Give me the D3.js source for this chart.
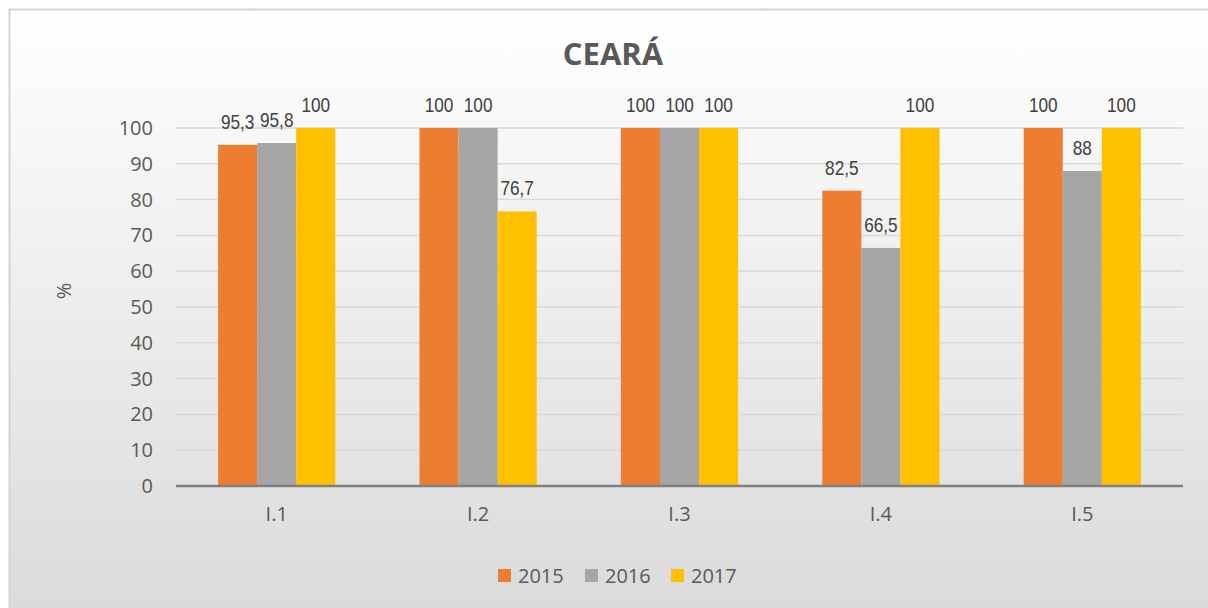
<!DOCTYPE html>
<html>
<head>
<meta charset="utf-8">
<title>CEARÁ</title>
<script src="https://cdn.jsdelivr.net/npm/d3@7"></script>
<style>
  body { margin: 0; background: #fff; }
</style>
</head>
<body>
<svg id="chart" width="1208" height="608"></svg>
<script>
// data
const categories = ["I.1", "I.2", "I.3", "I.4", "I.5"];
const years = ["2015", "2016", "2017"];
const v2015 = [95.3, 100, 100, 82.5, 100];
const v2016 = [95.8, 100, 100, 66.5, 88];
const v2017 = [100, 76.7, 100, 100, 100];
const yTicks = [0, 10, 20, 30, 40, 50, 60, 70, 80, 90, 100];
const colors = ["#ed7d31", "#a5a5a5", "#ffc000"];

const series = [v2015, v2016, v2017];
const fmt = d => String(d).replace(".", ",");

const svg = d3.select("#chart");
const W = 1208, H = 608;
const margin = { top: 128, right: 25, bottom: 122, left: 176 };

// background with gradient
const defs = svg.append("defs");
const grad = defs.append("linearGradient").attr("id", "bg")
  .attr("x1", 0).attr("y1", 0).attr("x2", 0).attr("y2", 1);
grad.append("stop").attr("offset", "0%").attr("stop-color", "#ffffff");
grad.append("stop").attr("offset", "100%").attr("stop-color", "#dadada");

svg.append("rect")
  .attr("x", 9.5).attr("y", 9.5)
  .attr("width", W).attr("height", H)
  .attr("fill", "url(#bg)")
  .attr("stroke", "#d4d4d4")
  .attr("stroke-width", 2);

const x0 = d3.scaleBand()
  .domain(categories)
  .range([margin.left, W - margin.right])
  .paddingInner(0)
  .paddingOuter(0);

const groupW = x0.bandwidth() * 0.582;
const x1 = d3.scaleBand()
  .domain(years)
  .range([0, groupW]);

const y = d3.scaleLinear()
  .domain([0, 100])
  .range([H - margin.bottom, margin.top]);

// gridlines
svg.append("g")
  .selectAll("line")
  .data(yTicks.filter(d => d > 0))
  .join("line")
  .attr("x1", margin.left).attr("x2", W - margin.right)
  .attr("y1", d => y(d)).attr("y2", d => y(d))
  .attr("stroke", "#d9d9d9")
  .attr("stroke-width", 1.5);

// y axis labels
const yAxis = d3.axisLeft(y).tickValues(yTicks).tickSize(0).tickPadding(0);
svg.append("g")
  .attr("transform", `translate(${margin.left - 23},0)`)
  .call(yAxis)
  .call(g => g.select(".domain").remove())
  .call(g => g.selectAll("text")
    .attr("font-family", "'Open Sans', sans-serif")
    .attr("font-size", 20)
    .attr("fill", "#595959"));

// bars
const groups = svg.append("g")
  .selectAll("g")
  .data(categories)
  .join("g")
  .attr("transform", d => `translate(${x0(d) + (x0.bandwidth() - groupW) / 2},0)`);

groups.selectAll("rect")
  .data((c, i) => years.map((yr, j) => ({ yr, v: series[j][i], j })))
  .join("rect")
  .attr("x", d => x1(d.yr))
  .attr("width", x1.bandwidth())
  .attr("y", d => y(d.v))
  .attr("height", d => y(0) - y(d.v))
  .attr("fill", d => colors[d.j]);

// data labels, narrow style
groups.selectAll("text")
  .data((c, i) => years.map((yr, j) => ({ yr, v: series[j][i], j })))
  .join("text")
  .attr("transform", d => `translate(${x1(d.yr) + x1.bandwidth() / 2},${y(d.v) - 16}) scale(0.82,1)`)
  .attr("text-anchor", "middle")
  .attr("font-family", "'Liberation Sans', Arial, sans-serif")
  .attr("font-size", 21)
  .attr("fill", "#404040")
  .text(d => fmt(d.v));

// zero axis line
svg.append("line")
  .attr("x1", margin.left).attr("x2", W - margin.right)
  .attr("y1", y(0)).attr("y2", y(0))
  .attr("stroke", "#808080")
  .attr("stroke-width", 2.5);

// x axis labels
const xAxis = d3.axisBottom(x0).tickSize(0).tickPadding(0);
svg.append("g")
  .attr("transform", `translate(0,${y(0) + 21})`)
  .call(xAxis)
  .call(g => g.select(".domain").remove())
  .call(g => g.selectAll("text")
    .attr("font-family", "'Open Sans', sans-serif")
    .attr("font-size", 20)
    .attr("fill", "#595959"));

// y axis title
svg.append("text")
  .attr("transform", "translate(71,291) rotate(-90)")
  .attr("text-anchor", "middle")
  .attr("font-family", "'Open Sans', sans-serif")
  .attr("font-size", 20)
  .attr("fill", "#595959")
  .text("%");

// title
svg.append("text")
  .attr("x", 613).attr("y", 65)
  .attr("text-anchor", "middle")
  .attr("font-family", "'Open Sans', sans-serif")
  .attr("font-weight", "bold")
  .attr("font-size", 31)
  .attr("fill", "#595959")
  .text("CEARÁ");

// legend
const legendX = [498, 585, 671];
const legend = svg.append("g")
  .selectAll("g")
  .data(years)
  .join("g")
  .attr("transform", (d, i) => `translate(${legendX[i]},569)`);
legend.append("rect")
  .attr("width", 13).attr("height", 13)
  .attr("fill", (d, i) => colors[i]);
legend.append("text")
  .attr("x", 20).attr("y", 14)
  .attr("font-family", "'Open Sans', sans-serif")
  .attr("font-size", 20)
  .attr("fill", "#595959")
  .text(d => d);
</script>
</body>
</html>
